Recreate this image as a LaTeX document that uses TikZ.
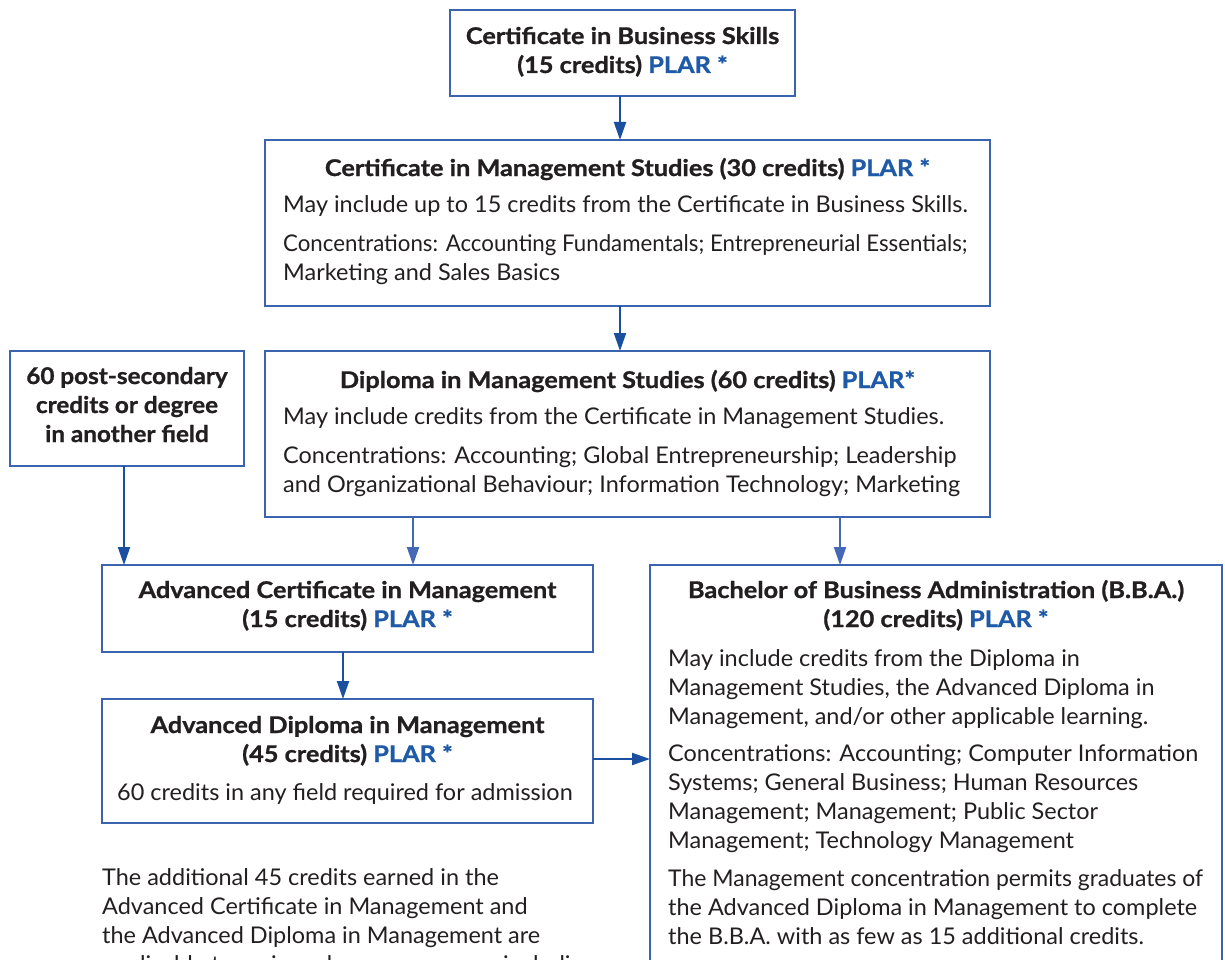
\documentclass[tikz,border=0pt]{standalone}
\usepackage{graphicx}
\usepackage{fontspec}
\setmainfont{Lato}[FakeStretch=1.02, BoldFeatures={FakeStretch=1.10, FakeBold=1}]
\usetikzlibrary{arrows.meta}
\definecolor{boxblue}{HTML}{3A63B0}
\definecolor{arrblue}{HTML}{1B4F9F}
\definecolor{arrlight}{HTML}{4468B6}
\definecolor{plar}{HTML}{1F5AA8}
\definecolor{txt}{HTML}{231F20}
\newcommand{\plr}[1]{\textcolor{plar}{#1}}
\begin{document}
\begin{tikzpicture}[x=1pt,y=-1pt,
  box/.style={draw=boxblue, line width=1.4pt, anchor=north west, inner sep=0pt, outer sep=0pt},
  ttl/.style={font=\bfseries\fontsize{23}{29}\selectfont, text=txt, inner sep=0pt, anchor=base},
  bod/.style={font=\fontsize{23}{29}\selectfont, text=txt, inner sep=0pt, anchor=base west},
  bodc/.style={font=\fontsize{23}{29}\selectfont, text=txt, inner sep=0pt, anchor=base},
  arr/.style={draw=arrblue, line width=2pt, -{Triangle[length=18pt,width=12pt]}},
  arrl/.style={draw=arrlight, line width=2pt, -{Triangle[length=18pt,width=12pt]}}]
\useasboundingbox (0,0) rectangle (1225,960);
\clip (0,0) rectangle (1225,960);
\fill[white] (0,0) rectangle (1225,960);

% boxes
\node[box, minimum width=345pt, minimum height=86pt] (b1) at (450,10) {};
\node[box, minimum width=725pt, minimum height=166pt] (b2) at (265,140) {};
\node[box, minimum width=725pt, minimum height=166pt] (b3) at (265,351) {};
\node[box, minimum width=234pt, minimum height=115pt] (b60) at (10,351) {};
\node[box, minimum width=491pt, minimum height=87pt] (acm) at (102,565) {};
\node[box, minimum width=491pt, minimum height=124pt] (adm) at (102,699) {};
\node[box, minimum width=572pt, minimum height=450pt] (bba) at (650,565) {};

% box 1
\node[ttl] (t1a) at (622.5,44) {Certificate in Business Skills};
\node[ttl] (t1b) at (622.5,73) {(15 credits) \plr{PLAR *}};

% box 2
\node[ttl] (t2) at (627.5,176) {Certificate in Management Studies (30 credits) \plr{PLAR *}};
\node[bod] (t2a) at (283,212) {May include up to 15 credits from the Certificate in Business Skills.};
\node[bod] (t2b) at (283,251) {\scalebox{0.949}[1]{Concentrations: Accounting Fundamentals; Entrepreneurial Essentials;}};
\node[bod] (t2c) at (283,280) {Marketing and Sales Basics};

% box 3
\node[ttl] (t3) at (627.5,388) {Diploma in Management Studies (60 credits) \plr{PLAR*}};
\node[bod] (t3a) at (283,424) {May include credits from the Certificate in Management Studies.};
\node[bod] (t3b) at (283,463) {Concentrations: Accounting; Global Entrepreneurship; Leadership};
\node[bod] (t3c) at (283,492) {and Organizational Behaviour; Information Technology; Marketing};

% box 60
\node[ttl] (t6a) at (127,384) {\scalebox{0.96}[1]{60 post-secondary}};
\node[ttl] (t6b) at (127,413) {\scalebox{0.96}[1]{credits or degree}};
\node[ttl] (t6c) at (127,442) {\scalebox{0.96}[1]{in another field}};

% ACM
\node[ttl] (tca) at (347.5,598) {Advanced Certificate in Management};
\node[ttl] (tcb) at (347.5,627) {(15 credits) \plr{PLAR *}};

% ADM
\node[ttl] (tda) at (347.5,733) {Advanced Diploma in Management};
\node[ttl] (tdb) at (347.5,762) {(45 credits) \plr{PLAR *}};
\node[bodc] (tdc) at (345,800) {60 credits in any field required for admission};

% BBA
\node[ttl] (tba) at (936,598) {Bachelor of Business Administration (B.B.A.)};
\node[ttl] (tbb) at (936,627) {(120 credits) \plr{PLAR *}};
\foreach \t [count=\i] in {{May include credits from the Diploma in},{Management Studies, the Advanced Diploma in},{Management, and/or other applicable learning.}}
  \node[bod] (bp1-\i) at (668,666+29*\i-29) {\t};
\foreach \t [count=\i] in {{Concentrations: Accounting; Computer Information},{Systems; General Business; Human Resources},{Management; Management; Public Sector},{Management; Technology Management}}
  \node[bod] (bp2-\i) at (668,761+29*\i-29) {\t};
\foreach \t [count=\i] in {{\scalebox{0.978}[1]{The Management concentration permits graduates of}},{the Advanced Diploma in Management to complete},{the B.B.A. with as few as 15 additional credits.}}
  \node[bod] (bp3-\i) at (668,886+29*\i-29) {\t};

% left note
\foreach \t [count=\i] in {{The additional 45 credits earned in the},{Advanced Certificate in Management and},{the Advanced Diploma in Management are},{applicable to various degree programs, including}}
  \node[bod] (ln-\i) at (102,885+29*\i-29) {\t};

% connectors
\draw[arr] (b1.south -| 620,0) -- (b2.north -| 620,0);
\draw[arr] (b2.south -| 620,0) -- (b3.north -| 620,0);
\draw[arr] (b60.south -| 124,0) -- (acm.north -| 124,0);
\draw[arrl] (b3.south -| 413,0) -- (acm.north -| 413,0);
\draw[arrl] (b3.south -| 840,0) -- (bba.north -| 840,0);
\draw[arr] (acm.south -| 343,0) -- (adm.north -| 343,0);
\draw[arr] (adm.east |- 0,759) -- (bba.west |- 0,759);
\end{tikzpicture}
\end{document}
